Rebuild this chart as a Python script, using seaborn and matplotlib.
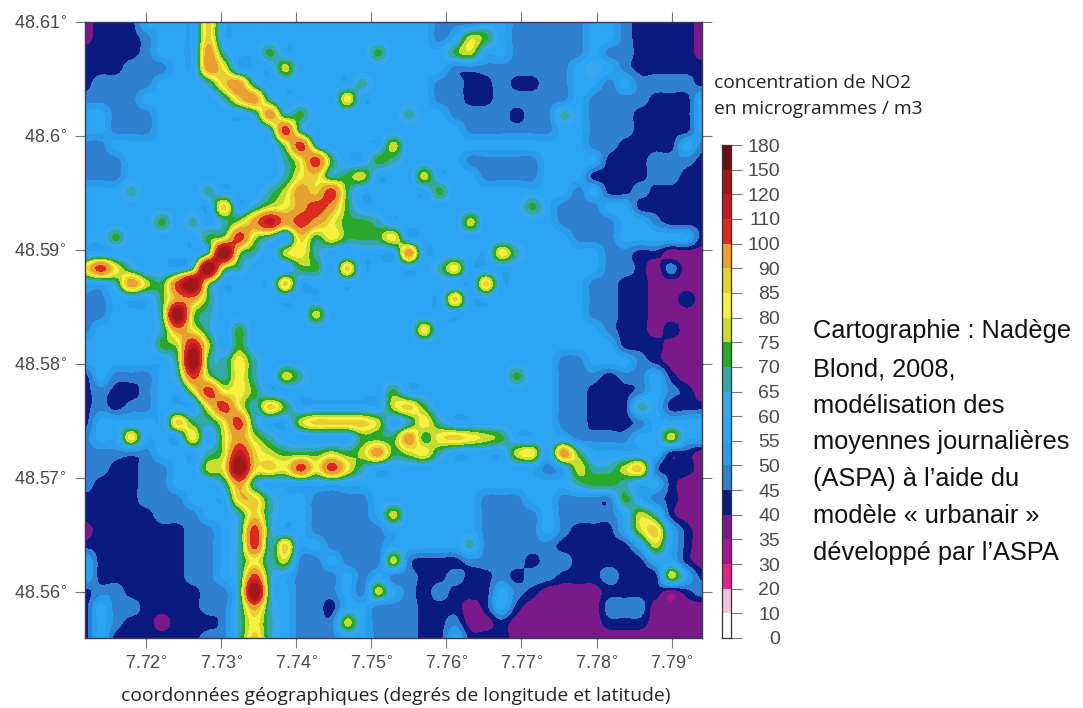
import numpy as np
import matplotlib
matplotlib.use("Agg")
import matplotlib.pyplot as plt
from matplotlib.colors import ListedColormap, BoundaryNorm
import seaborn as sns

W, H = 1083, 708
sns.set_theme(style="white")
plt.rcParams['font.family'] = ['Liberation Sans', 'DejaVu Sans']

level_ticks = [0, 10, 20, 30, 35, 40, 45, 50, 55, 60, 65, 70, 75, 80, 85, 90, 100, 110, 120, 150, 180]
band_colors = ["#ffffff", "#f3c3da", "#e0248c", "#a3188c", "#7a1a8a", "#0b1a80", "#2f80d0", "#2a9cec",
               "#2ca6f4", "#38a8ee", "#33a8a8", "#2aa82c", "#c8dc30", "#f8f040", "#e8d030", "#e8a030",
               "#dc2a20", "#c01a22", "#a01818", "#6a0f14"]

# concentration read for each map letter
code_values = dict(p=37, n=43, m=48, l=57, c=62, t=67, g=72, v=78, y=83, e=87, o=95, r=105, k=115, d=135)

lon_ticks = [7.72, 7.73, 7.74, 7.75, 7.76, 7.77, 7.78, 7.79]
lat_ticks = [48.56, 48.57, 48.58, 48.59, 48.60, 48.61]
lat_labels = ["48.56", "48.57", "48.58", "48.59", "48.6", "48.61"]

# map read cell by cell, north to south, west to east
rows = [
 "pnnnllllel" + "llllllllll" + "lllmmmllmm" + "mmmllmnnnnp",
 "pnnnmlllel" + "llllllllll" + "lllmlvglmm" + "mmmllmnnnnp",
 "nnnnmlllot" + "llgllllllg" + "llllgvllmm" + "mmmlmmnnnnp",
 "nnnmmmlloy" + "lllvllllll" + "llllmmmmmm" + "mmlclmnnnnn",
 "nmmmmlllte" + "otlllllltl" + "lllmmnnmnn" + "mmllmlmmmmn",
 "mmmmlllllt" + "eotllllyll" + "lllmmnnmmm" + "mmlmmmmnnnl",
 "llmmmlllll" + "ltotglllll" + "ltllmmmmnm" + "mtlmmmnnnnl",
 "llmmmlllll" + "lltrtlllll" + "lllllmmmmm" + "mllmmmnnnnl",
 "mmllllllll" + "lllvrtllll" + "vlllllllll" + "lllmmnnnnlm",
 "mmmlllllll" + "llltyrgllg" + "tllllmmmmm" + "llllnnnmmmn",
 "mmmlllllll" + "llltyetgvl" + "llvlllmmmm" + "lllnnnnmmnn",
 "llltlllltl" + "lltvoergll" + "lllgllllll" + "llmlnnmnnnn",
 "llllllllle" + "ltvyorogll" + "lllllllllg" + "lmmmllnnnnn",
 "lllllgltlt" + "vokoroyggt" + "lllllvllll" + "lmmmmllmnnn",
 "llglllllgv" + "rvtlegyggg" + "ylllllllll" + "llmmmllllln",
 "llllllllgd" + "vtlvytllll" + "lolllllytl" + "llllmmnnppp",
 "yrytlllgdv" + "tlllgglell" + "llltylllll" + "llllmmnpmpp",
 "lltovgrdvl" + "lllellllll" + "llllllelll" + "lllmmnnpppp",
 "mmlllgoogl" + "llllllllll" + "llllelllll" + "lllmmnnppnp",
 "mmlllgdvtl" + "lllllvllll" + "llllllllll" + "lllmmnnpppp",
 "mlllltoytl" + "glllllllll" + "llylllllll" + "llllmnnpnpp",
 "lllllgvkvl" + "glllllllll" + "llllllllll" + "lllllnnnppp",
 "llllllgdgt" + "ytllllllll" + "llllllllll" + "lmmlllmnppp",
 "nlmmmltrvt" + "ytlvtlllll" + "llllllllgl" + "lmmmnmmlnpp",
 "nmnnmllvry" + "ygllllllll" + "glllllllll" + "lmmnnnmlmnp",
 "nmnmmlllyr" + "ytegllllll" + "veglllllll" + "lmmnnntlnnn",
 "nlllllegty" + "rtllveeeev" + "ltytllllll" + "lmmnnnmllll",
 "mllylllylv" + "ovtlllllgg" + "gogyeyvgll" + "llmmmmllvll",
 "mmmmmllltv" + "kevgggvgvo" + "gvytllllvy" + "loglllllnnp",
 "mmnnmmllvy" + "deeyryrytl" + "llllllllll" + "mlvttvemnnp",
 "mnnnmmlllt" + "otllllllll" + "llllllllll" + "lltggtllnpp",
 "nnnnmmmlll" + "eetllmmmml" + "llllllmmml" + "lmmmmglmnpp",
 "nnnnnmmmll" + "tetllmmmml" + "vlllllmmmm" + "lmmmmlvtnpp",
 "pnnnnnnmml" + "trtllmmmmm" + "llllllmmmm" + "lmnnnlvelnp",
 "nnnnnnnmml" + "trtellmmmm" + "llllltmmmm" + "mnnnnnlvlnp",
 "lnnnnnnmml" + "tytvmmlmmm" + "vmnnnmmmmn" + "mmnnnnnllnp",
 "lnnnnnnmml" + "trtlmmmlml" + "mmnnmnnmnm" + "mnnnmnnnvln",
 "nmmnnnnnmm" + "tdtlmmmlmv" + "lmnmnnnlmn" + "ppppnnnnpnm",
 "nlmmnnnnmm" + "totlmmnllm" + "mmnnnpnlnp" + "ppppmmmpppp",
 "nlmnnpnnnm" + "tytlmmmvlm" + "mmnnmppnpp" + "ppppnnnpppp",
 "nlnnnnnnmm" + "tetlmmmllm" + "mmnnlnnnpp" + "ppppppppppp",
]

coord_label = "coordonnées géographiques (degrés de longitude et latitude)"
unit_lines = ["concentration de NO2", "en microgrammes / m3"]
credit_lines = ["Cartographie : Nadège", "Blond, 2008,", "modélisation des", "moyennes journalières",
                "(ASPA) à l’aide du", "modèle « urbanair »", "développé par l’ASPA"]

for i, r in enumerate(rows):
    assert len(r) == 41, (i, len(r))
Z = np.array([[code_values[c] for c in r] for r in rows], dtype=float)

LON0, LON1 = 7.71188, 7.79405
LAT0, LAT1 = 48.5560, 48.6100
dlon = (LON1 - LON0) / (Z.shape[1] - 1)
dlat = (LAT1 - LAT0) / (Z.shape[0] - 1)

def box(x0, y0, x1, y1):
    return [x0 / W, 1 - y1 / H, (x1 - x0) / W, (y1 - y0) / H]

def px(x, y):
    return x / W, 1 - y / H

fig = plt.figure(figsize=(W / 100, H / 100), dpi=100)
ax = fig.add_axes(box(85, 22, 702, 638))
cmap = ListedColormap(band_colors)
norm = BoundaryNorm(level_ticks, cmap.N)
ax.imshow(Z, origin="upper", aspect="auto", cmap=cmap, norm=norm,
          interpolation="catrom", interpolation_stage="data",
          extent=[LON0 - dlon / 2, LON1 + dlon / 2, LAT0 - dlat / 2, LAT1 + dlat / 2])
ax.set_xlim(LON0, LON1)
ax.set_ylim(LAT0, LAT1)
grey = "#4a4a4a"
ax.set_xticks(lon_ticks, [f"{v:.2f}$^{{\\circ}}$" for v in lon_ticks])
ax.set_yticks(lat_ticks, [f"{s}$^{{\\circ}}$" for s in lat_labels])
ax.tick_params(axis="both", which="major", direction="out", length=7, width=0.8, color="#777777",
               labelcolor=grey, labelsize=13, top=True, right=True, bottom=True, left=True, pad=6)
for s in ax.spines.values():
    s.set_color("#3a3a5a")
    s.set_linewidth(1.0)

# colour scale drawn as a one-column heatmap, highest band at the top
cax = fig.add_axes(box(722, 145, 731, 638))
band_index = np.arange(len(band_colors))[::-1].reshape(-1, 1)
sns.heatmap(band_index, ax=cax, cmap=cmap, vmin=-0.5, vmax=len(band_colors) - 0.5, cbar=False,
            xticklabels=False, yticklabels=False)
cax.set_yticks(np.arange(len(level_ticks)), [str(v) for v in level_ticks[::-1]])
cax.yaxis.tick_right()
cax.tick_params(axis="y", length=8, width=0.8, color="#777777", labelcolor=grey, labelsize=14,
                right=True, left=False, pad=2, labelrotation=0)
for lab in cax.get_yticklabels():
    lab.set_horizontalalignment("right")
    lab.set_x(4.92)
for s in cax.spines.values():
    s.set_visible(True)
    s.set_color("#333333")
    s.set_linewidth(0.9)

x0, y0 = px(396, 696)
fig.text(x0, y0, coord_label, ha="center", va="center", family=["Open Sans"], fontsize=13.9, color="#222222")
for line, y in zip(unit_lines, [83, 109]):
    x0, y0 = px(714, y)
    fig.text(x0, y0, line, ha="left", va="center", family=["Open Sans"], fontsize=13.8, color="#222222")
for line, y in zip(credit_lines, [331, 369, 406, 442, 479, 516, 553]):
    x0, y0 = px(813, y)
    fig.text(x0, y0, line, ha="left", va="center", fontsize=18.3, color="#111111")

fig.savefig("out.png", dpi=100)
